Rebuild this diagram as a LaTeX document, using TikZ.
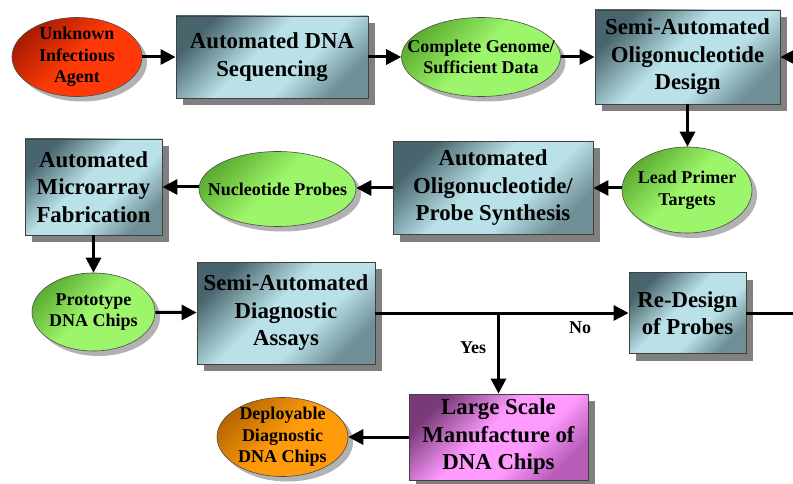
\documentclass[tikz,border=0pt]{standalone}
\usepackage{fontspec}
\setmainfont{Liberation Serif}
\usetikzlibrary{shapes.geometric,arrows.meta,shadows}

% process boxes: slate corners, pale cyan band across the diagonal
\definecolor{bdark}{HTML}{48646C}
\definecolor{bmid}{HTML}{6F8E96}
\definecolor{blight}{HTML}{B9E1E7}
% final manufacturing step
\definecolor{pdark}{HTML}{7A3A7A}
\definecolor{pmid}{HTML}{B85CB8}
\definecolor{plight}{HTML}{FF9AFF}
% intermediate products
\definecolor{gdark}{HTML}{5EAE32}
\definecolor{glight}{HTML}{9CF56A}
\definecolor{rdark}{HTML}{A81C00}
\definecolor{rlight}{HTML}{FF3A08}
\definecolor{odark}{HTML}{B86800}
\definecolor{olight}{HTML}{FF9A0A}

\pgfdeclareverticalshading{cyanslab}{100bp}{color(0bp)=(bmid); color(25bp)=(bmid); color(40bp)=(blight); color(55bp)=(blight); color(75bp)=(bdark); color(100bp)=(bdark)}
\pgfdeclareverticalshading{pinkslab}{100bp}{color(0bp)=(pmid); color(25bp)=(pmid); color(40bp)=(plight); color(55bp)=(plight); color(75bp)=(pdark); color(100bp)=(pdark)}
\pgfdeclareverticalshading{greenslab}{100bp}{color(0bp)=(glight); color(25bp)=(glight); color(52bp)=(glight); color(75bp)=(gdark); color(100bp)=(gdark)}
\pgfdeclareverticalshading{redslab}{100bp}{color(0bp)=(rlight); color(25bp)=(rlight); color(50bp)=(rlight); color(75bp)=(rdark); color(100bp)=(rdark)}
\pgfdeclareverticalshading{orangeslab}{100bp}{color(0bp)=(olight); color(25bp)=(olight); color(50bp)=(olight); color(75bp)=(odark); color(100bp)=(odark)}

\begin{document}
\begin{tikzpicture}[x=1pt,y=-1pt,
  procbox/.style={rectangle, draw=black!75, line width=0.8pt, shading=cyanslab, shading angle=45,
    drop shadow={shadow xshift=7pt, shadow yshift=-7pt, fill=black!50, opacity=1},
    font=\bfseries\fontsize{22.8}{27.5}\selectfont, align=center, inner sep=0pt},
  oval/.style={ellipse, draw=black!70, line width=0.6pt, inner sep=0pt, shading angle=45,
    drop shadow={shadow xshift=5pt, shadow yshift=-5pt, fill=black!30, opacity=1}},
  otext/.style={font=\bfseries\fontsize{18}{21.5}\selectfont, align=center, inner sep=0pt},
  flow/.style={line width=3pt, -{Triangle[length=15pt,width=15pt]}},
  plain/.style={line width=3pt},
  answer/.style={font=\bfseries\fontsize{18}{20}\selectfont, inner sep=0pt}]

\useasboundingbox (0,0) rectangle (793,484);

% row 1
\node[oval, shading=redslab, minimum width=130pt, minimum height=79pt] (ua) at (77,57) {};
\node[otext] at (ua) {Unknown\\Infectious\\Agent};
\node[procbox, minimum width=192pt, minimum height=82pt] (seq) at (272,57) {Automated DNA\\Sequencing};
\node[oval, shading=greenslab, minimum width=159pt, minimum height=79pt] (cg) at (481,57) {};
\node[otext] at (cg) {Complete Genome/\\Sufficient Data};
\node[procbox, minimum width=185pt, minimum height=94pt] (des) at (687.5,57) {Semi-Automated\\Oligonucleotide\\Design};

% row 2
\node[oval, shading=greenslab, minimum width=130pt, minimum height=86pt] (lpt) at (687,190) {};
\node[otext] at (lpt) {Lead Primer\\Targets};
\node[procbox, minimum width=200pt, minimum height=93pt] (syn) at (493,188) {Automated\\Oligonucleotide/\\Probe Synthesis};
\node[oval, shading=greenslab, minimum width=157pt, minimum height=75pt] (np) at (277.5,189) {};
\node[otext] at (np) {Nucleotide Probes};
\node[procbox, minimum width=137pt, minimum height=96pt] (fab) at (93.5,187) {Automated\\Microarray\\Fabrication};

% row 3
\node[oval, shading=greenslab, minimum width=123pt, minimum height=78pt] (pdc) at (93.5,312) {};
\node[otext] at (pdc) {Prototype\\DNA Chips};
\node[procbox, minimum width=178pt, minimum height=102pt] (dia) at (286,313) {Semi-Automated\\Diagnostic\\Assays};
\node[procbox, minimum width=117pt, minimum height=81pt] (red) at (687.5,313) {Re-Design\\of Probes};

% row 4
\node[procbox, shading=pinkslab, minimum width=179pt, minimum height=86pt] (lsm) at (498.5,437) {Large Scale\\Manufacture of\\DNA Chips};
\node[oval, shading=orangeslab, minimum width=131pt, minimum height=79pt] (ddc) at (282.5,437) {};
\node[otext] at (ddc) {Deployable\\Diagnostic\\DNA Chips};

% loose ends leaving the frame on the right
\coordinate (inR) at (793,57);
\coordinate (outR) at (793,313);
\coordinate (br) at (498.5,313);

% connectors
\draw[flow] (ua) -- (seq);
\draw[flow] (seq) -- (cg);
\draw[flow] (cg) -- (des);
\draw[flow] (inR) -- (inR -| des.east);
\draw[flow] (des) -- (des |- lpt.north);
\draw[flow] (lpt.west |- syn) -- (syn);
\draw[flow] (syn) -- (np.east |- syn);
\draw[flow] (np.west |- fab) -- (fab);
\draw[flow] (fab) -- (fab |- pdc.north);
\draw[flow] (pdc) -- (dia);
\draw[flow] (dia) -- (red);
\draw[flow] (br) -- (lsm);
\draw[plain] (red.east) -- (outR);
\draw[flow] (lsm) -- (ddc);

% decision labels
\node[answer] (no) at (580,328) {No};
\node[answer] (yes) at (473,348) {Yes};
\end{tikzpicture}
\end{document}
